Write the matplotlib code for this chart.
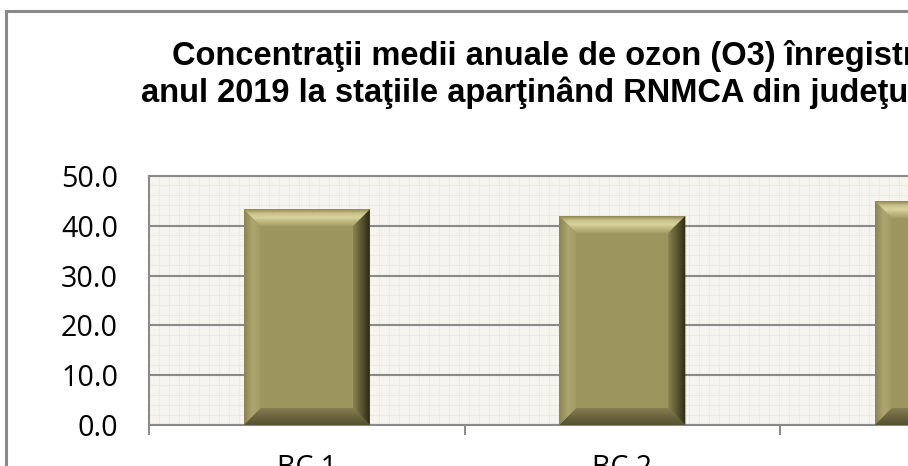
import numpy as np
import matplotlib
matplotlib.use('Agg')
import matplotlib.pyplot as plt
from matplotlib.patches import Polygon, Rectangle
from matplotlib.colors import LinearSegmentedColormap
from matplotlib.ticker import FormatStrFormatter

stations = ['BC 1', 'BC 2', 'BC 3']
o3_mean = [43.3, 42.0, 45.0]
yticks = [0, 10, 20, 30, 40, 50]
title_1 = 'Concentraţii medii anuale de ozon (O3) înregistrate în'
title_2 = 'anul 2019 la staţiile aparţinând RNMCA din judeţul Bacău'

GREY = '#8a8a8a'
W, H = 908, 466

plt.rcParams['font.family'] = ['Open Sans', 'DejaVu Sans']
fig = plt.figure(figsize=(W / 100, H / 100), dpi=100)

# chart frame (the picture is cropped on the right and bottom)
fig.patches.append(Rectangle((5.5 / W, -1), 2, 2 - 10.5 / H, transform=fig.transFigure,
                             fill=False, edgecolor=GREY, lw=2.2))

fig.text(172 / W, 1 - 65 / H, title_1, family='Liberation Sans', weight='bold',
         fontsize=23.5, va='baseline', ha='left')
fig.text(141 / W, 1 - 102 / H, title_2, family='Liberation Sans', weight='bold',
         fontsize=23.5, va='baseline', ha='left')

ax = fig.add_axes([149 / W, (H - 425) / H, 3 * 315.5 / W, 249 / H])
ax.set_xlim(-0.5, len(stations) - 0.5)
ax.set_ylim(0, 50)
ax.set_facecolor('#f5f4ef')

p0 = ax.transData.transform((0, 0))
p1 = ax.transData.transform((1, 1))
px_x, px_y = p1[0] - p0[0], p1[1] - p0[1]

# fine paper-like texture of the plot area
tex_x = np.arange(-0.5, len(stations) - 0.5, 10 / px_x)
tex_y = np.arange(0, 50, 10 / px_y)
ax.vlines(tex_x, 0, 50, color='#eceae4', lw=0.7, zorder=0.3)
ax.hlines(tex_y, -0.5, len(stations) - 0.5, color='#eceae4', lw=0.7, zorder=0.3)

bars = ax.bar(range(len(stations)), o3_mean, width=0.4, color='#9d955e',
              edgecolor='none', zorder=2)


def bevel(pts, colors, horizontal):
    pts = np.array(pts)
    ext = [pts[:, 0].min(), pts[:, 0].max(), pts[:, 1].min(), pts[:, 1].max()]
    cmap = LinearSegmentedColormap.from_list('b', colors)
    g = np.linspace(0, 1, 64)
    img = g[None, :] if horizontal else g[:, None]
    im = ax.imshow(img, cmap=cmap, extent=ext, origin='lower', aspect='auto',
                   interpolation='bilinear', zorder=3)
    poly = Polygon(pts, closed=True, facecolor='none', edgecolor='none')
    ax.add_patch(poly)
    im.set_clip_path(poly)


bx, by = 17 / px_x, 17 / px_y
for r in bars:
    x0, x1, y1 = r.get_x(), r.get_x() + r.get_width(), r.get_height()
    bevel([(x0, y1), (x1, y1), (x1 - bx, y1 - by), (x0 + bx, y1 - by)],
          ['#a8a06a', '#bdb67f', '#d8d29b', '#c9c28a', '#8e8753'], False)
    bevel([(x0, 0), (x1, 0), (x1 - bx, by), (x0 + bx, by)],
          ['#57522f', '#6b6540', '#857e51'], False)
    bevel([(x0, 0), (x0, y1), (x0 + bx, y1 - by), (x0 + bx, by)],
          ['#8a8352', '#aea670', '#a29a63'], True)
    bevel([(x1, 0), (x1, y1), (x1 - bx, y1 - by), (x1 - bx, by)],
          ['#8a8352', '#5c5733', '#2d2a16'], True)

ax.set_xlim(-0.5, len(stations) - 0.5)
ax.set_ylim(0, 50)

ax.set_yticks(yticks)
ax.yaxis.set_major_formatter(FormatStrFormatter('%.1f'))
ax.tick_params(axis='y', length=0, pad=22.3, labelsize=20.6, labelcolor='black')
ax.yaxis.grid(True, color=GREY, lw=1.5)
ax.set_axisbelow(True)

ax.set_xticks(range(len(stations)))
ax.set_xticklabels(stations)
ax.set_xticks(np.arange(-0.5, len(stations)), minor=True)
ax.tick_params(axis='x', which='major', length=0, pad=21, labelsize=20.6)
ax.tick_params(axis='x', which='minor', length=7.2, width=1.4, color=GREY, direction='out')

for s in ax.spines.values():
    s.set_color(GREY)
    s.set_linewidth(1.5)

fig.savefig('out.png', dpi=100)
